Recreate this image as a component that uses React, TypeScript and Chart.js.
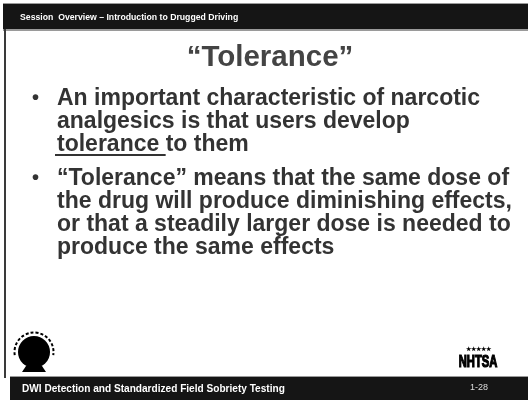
import React, { useEffect, useRef } from "react";
import { Chart, registerables } from "chart.js";

Chart.register(...registerables);

const headerText = "Session  Overview – Introduction to Drugged Driving";
const titleText = "“Tolerance”";
const bullet1Lines = [
  "An important characteristic of narcotic",
  "analgesics is that users develop",
  "tolerance to them",
];
const underlinedWord = "tolerance ";
const bullet2Lines = [
  "“Tolerance” means that the same dose of",
  "the drug will produce diminishing effects,",
  "or that a steadily larger dose is needed to",
  "produce the same effects",
];
const footerText = "DWI Detection and Standardized Field Sobriety Testing";
const pageNumber = "1-28";
const logoText = "NHTSA";

const FONT = '"Liberation Sans", Arial, sans-serif';

const slidePlugin = {
  id: "slide",
  beforeDraw(chart: any) {
    const ctx: CanvasRenderingContext2D = chart.ctx;
    const W = chart.width;
    const H = chart.height;
    ctx.save();
    ctx.fillStyle = "#ffffff";
    ctx.fillRect(0, 0, W, H);

    // header bar
    ctx.fillStyle = "#9a9a9a";
    ctx.fillRect(3, 3, W - 3, 28);
    ctx.fillStyle = "#151515";
    ctx.fillRect(3, 4, W - 3, 25);
    // left border
    ctx.fillStyle = "#3a3a3a";
    ctx.fillRect(4, 29, 2, 349);

    ctx.fillStyle = "#ffffff";
    ctx.font = `bold 8.7px ${FONT}`;
    ctx.textBaseline = "alphabetic";
    ctx.textAlign = "left";
    ctx.fillText(headerText, 20, 20);

    // title
    ctx.fillStyle = "#444444";
    ctx.font = `bold 29.5px ${FONT}`;
    ctx.textAlign = "center";
    ctx.fillText(titleText, 270, 66);

    // bullets
    ctx.textAlign = "left";
    ctx.fillStyle = "#333333";
    ctx.font = `bold 23px ${FONT}`;
    const x0 = 57;
    const lh = 23;
    const b1y = 105;
    bullet1Lines.forEach((l, i) => ctx.fillText(l, x0, b1y + i * lh));
    const b2y = 185;
    bullet2Lines.forEach((l, i) => ctx.fillText(l, x0, b2y + i * lh));
    ctx.font = `bold 20px ${FONT}`;
    ctx.fillText("•", 32, b1y - 1);
    ctx.fillText("•", 32, b2y - 1);
    ctx.font = `bold 23px ${FONT}`;
    const uw = ctx.measureText(underlinedWord).width;
    ctx.fillRect(x0 - 2, b1y + 2 * lh + 3, uw + 2, 2);

    // footer
    ctx.fillStyle = "#9a9a9a";
    ctx.fillRect(10, 376, W - 10, 1);
    ctx.fillStyle = "#151515";
    ctx.fillRect(10, 377, W - 10, H - 377);
    ctx.fillStyle = "#ffffff";
    ctx.font = `bold 10.1px ${FONT}`;
    ctx.fillText(footerText, 22, 392);
    ctx.font = `9px ${FONT}`;
    ctx.fillStyle = "#dddddd";
    ctx.fillText(pageNumber, 470, 390);

    // left logo
    ctx.fillStyle = "#000000";
    ctx.beginPath();
    ctx.arc(34, 352, 16, 0, Math.PI * 2);
    ctx.fill();
    ctx.strokeStyle = "#000000";
    ctx.lineWidth = 2;
    ctx.setLineDash([3, 2]);
    ctx.beginPath();
    ctx.arc(34, 352, 19.5, Math.PI * 0.95, Math.PI * 2.05);
    ctx.stroke();
    ctx.setLineDash([]);
    ctx.beginPath();
    ctx.moveTo(26, 366);
    ctx.lineTo(42, 366);
    ctx.lineTo(46, 372);
    ctx.lineTo(22, 372);
    ctx.closePath();
    ctx.fill();

    // NHTSA logo
    ctx.fillStyle = "#000000";
    ctx.font = `bold 6px ${FONT}`;
    ctx.textAlign = "center";
    ctx.fillText("★★★★★", 478, 351);
    ctx.font = `900 16px ${FONT}`;
    ctx.save();
    ctx.translate(478, 367);
    ctx.scale(0.7, 1);
    ctx.fillText(logoText, 0, 0);
    ctx.lineWidth = 1.2;
    ctx.strokeStyle = "#000000";
    ctx.strokeText(logoText, 0, 0);
    ctx.restore();

    ctx.restore();
  },
};

export default function App() {
  const ref = useRef<HTMLCanvasElement | null>(null);
  useEffect(() => {
    document.body.style.margin = "0";
    if (!ref.current) return;
    const chart = new Chart(ref.current, {
      type: "scatter",
      data: { datasets: [{ data: [] }] },
      options: {
        animation: false,
        responsive: false,
        events: [],
        layout: { padding: 0 },
        scales: { x: { display: false }, y: { display: false } },
        plugins: { legend: { display: false }, tooltip: { enabled: false }, title: { display: false } },
      },
      plugins: [slidePlugin],
    });
    return () => chart.destroy();
  }, []);
  return (
    <div style={{ position: "fixed", left: 0, top: 0, width: 528, height: 400 }}>
      <canvas ref={ref} width={528} height={400} style={{ width: 528, height: 400, display: "block" }} />
    </div>
  );
}
